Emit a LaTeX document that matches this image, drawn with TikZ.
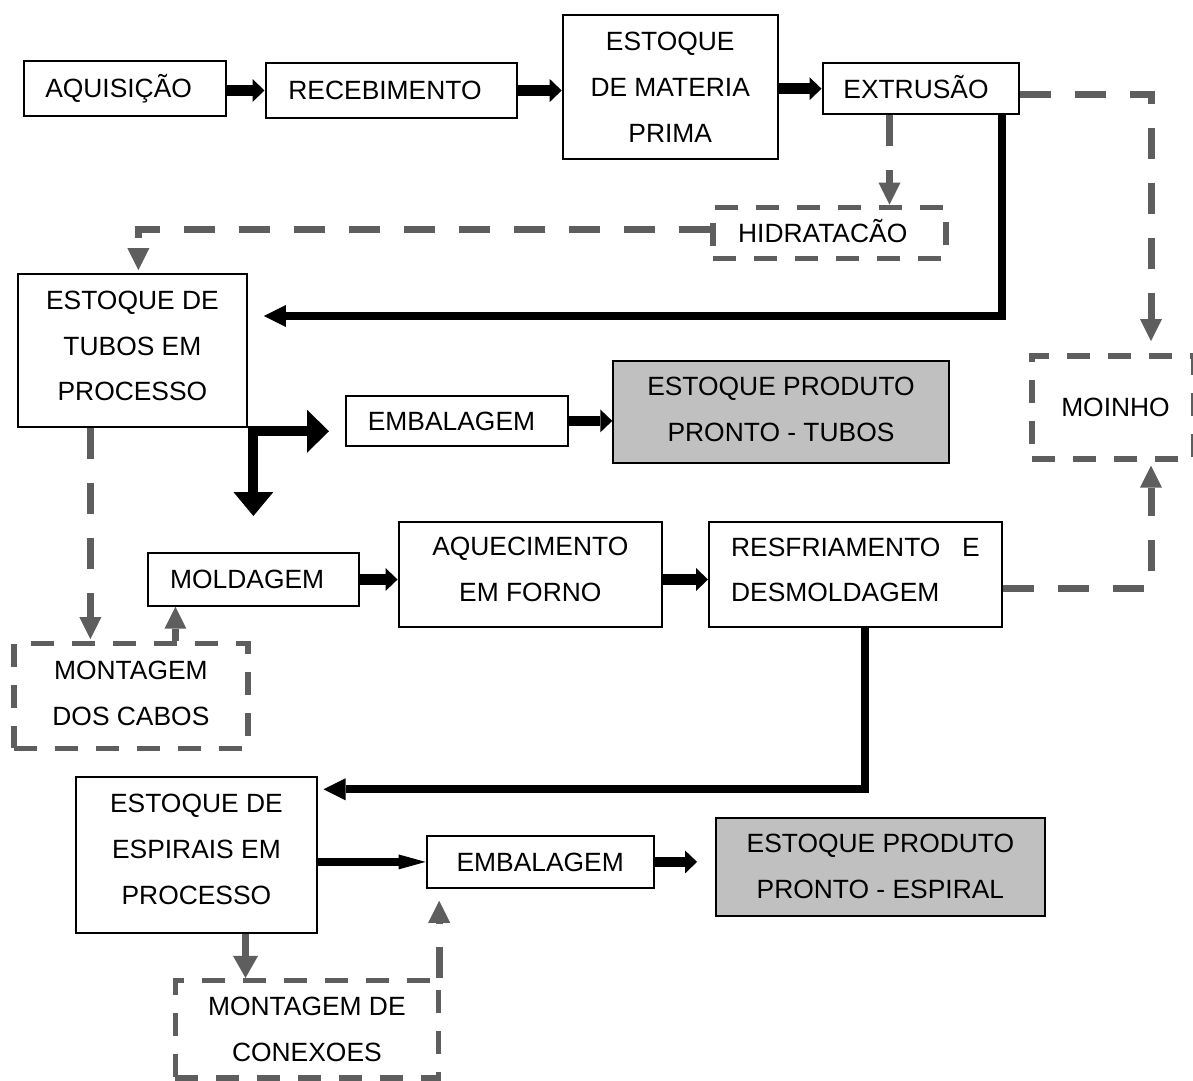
\documentclass[tikz,border=0pt]{standalone}
\usepackage{fontspec}
\setmainfont{Liberation Sans}
\usetikzlibrary{arrows.meta,calc}
\definecolor{dgray}{RGB}{94,94,94}
\definecolor{lgray}{RGB}{192,192,192}
\newcommand{\bfnt}{\fontsize{26.4}{45.7}\selectfont}
\newcommand{\dpt}[1]{\rule[-#1]{0pt}{#1}}
\begin{document}
\begin{tikzpicture}[x=1pt,y=-1pt,
  box/.style={draw=black, line width=2pt, fill=white, inner sep=0pt, font=\bfnt, text=black},
  pbox/.style={box, fill=lgray},
  dbox/.style={draw=dgray, line width=5.5pt, dash pattern=on 23pt off 18pt, inner sep=0pt, font=\bfnt, text=black},
  one/.style={text height=18.9pt, text depth=0pt},
  garr/.style={draw=dgray, line width=7pt, dash pattern=on 31pt off 24pt, -{Triangle[length=22pt,width=22pt,line width=0pt]}},
  gsol/.style={draw=dgray, line width=7pt, -{Triangle[length=22pt,width=25pt,line width=0pt]}},
  barr/.style={draw=black, line width=10.5pt, -{Triangle[length=12pt,width=23pt,line width=0pt]}},
  tarr/.style={draw=black, line width=8.6pt, -{Triangle[length=27pt,width=15pt,line width=0pt]}},
  bline/.style={draw=black, line width=8pt, miter limit=10, -{Triangle[length=22pt,width=22pt,line width=0pt]}},
  larr/.style={draw=black, line width=10pt, miter limit=10, {Triangle[length=24pt,width=40pt,line width=0pt]}-{Triangle[length=22pt,width=43pt,line width=0pt]}}
]
\fill[white] (0,0) rectangle (1193,1080);
\useasboundingbox (0,0) rectangle (1193,1080);

% boxes
\node[box, one, minimum width=202pt, minimum height=55pt] (aq) at (124.6,88.5) {AQUISIÇÃO\hspace*{12pt}};
\node[box, one, minimum width=251pt, minimum height=55.6pt] (rec) at (391,90.5) {RECEBIMENTO\hspace*{12pt}};
\node[box, align=center, minimum width=215pt, minimum height=144pt] (emp) at (670.2,87.2) {ESTOQUE\\DE MATERIA\\PRIMA};
\node[box, one, minimum width=196pt, minimum height=51pt] (ext) at (920.5,88.7) {EXTRUSÃO\hspace*{9pt}};
\node[dbox, one, minimum width=233pt, minimum height=51pt] (hid) at (829.7,232.8) {HIDRATACÃO\hspace*{14pt}};
\node[box, align=center, minimum width=229pt, minimum height=152.7pt] (tub) at (132.4,350.4) {ESTOQUE DE\\TUBOS EM\\PROCESSO\dpt{9pt}};
\node[box, one, minimum width=222pt, minimum height=50pt] (emb1) at (457,420.9) {EMBALAGEM\hspace*{11pt}};
\node[pbox, align=center, minimum width=335.5pt, minimum height=102pt] (ppt) at (781,412) {ESTOQUE PRODUTO\\PRONTO - TUBOS\dpt{6pt}};
\node[dbox, one, minimum width=162pt, minimum height=103pt] (moi) at (1113,407.3) {\hspace*{5pt}MOINHO};
\node[box, one, minimum width=210.7pt, minimum height=52.4pt] (mol) at (253.7,579.5) {MOLDAGEM\hspace*{13pt}};
\node[box, align=center, minimum width=263.5pt, minimum height=105.6pt] (aqf) at (530.3,574.5) {AQUECIMENTO\\EM FORNO\dpt{10pt}};
\node[box, align=left, minimum width=293pt, minimum height=105pt] (res) at (855.5,574.2) {RESFRIAMENTO\hspace{21.8pt}E\\DESMOLDAGEM\dpt{9pt}};
\node[dbox, align=center, minimum width=234pt, minimum height=105pt] (mdc) at (130.9,695.8) {MONTAGEM\\DOS CABOS\dpt{5pt}};
\node[box, align=center, minimum width=241pt, minimum height=156pt] (esp) at (196.4,855.3) {ESTOQUE DE\\ESPIRAIS EM\\PROCESSO\dpt{12pt}};
\node[box, one, minimum width=227.3pt, minimum height=51.7pt] (emb2) at (540.2,861.9) {EMBALAGEM};
\node[pbox, align=center, minimum width=329.7pt, minimum height=98pt] (ppe) at (880.4,866.7) {ESTOQUE PRODUTO\\PRONTO - ESPIRAL};
\node[dbox, align=center, minimum width=263pt, minimum height=97.4pt] (mcx) at (306.9,1029.4) {MONTAGEM DE\\CONEXOES};

% short black block arrows
\draw[barr] (aq.east |- rec.west) -- (rec.west);
\draw[barr] (rec.east) -- (rec.east -| emp.west);
\draw[barr] (emp.east |- ext.west) -- (ext.west);
\draw[barr] (emb1.east) -- (emb1.east -| ppt.west);
\draw[barr] (mol.east) -- (mol.east -| aqf.west);
\draw[barr] (mol.east -| aqf.east) -- (mol.east -| res.west);
\draw[barr, shorten >=17.5pt] (emb2.east) -- (emb2.east -| ppe.west);
\draw[tarr] (esp.east |- emb2.west) -- (emb2.west);

% long black lines
\coordinate (e1) at ($(ext.south)+(81.5,0)$);
\coordinate (t2) at ($(tub.east)+(16,-34.4)$);
\draw[bline] (e1) |- (t2);
\coordinate (r1) at ($(res.south)+(9.2,0)$);
\coordinate (s2) at ($(esp.east)+(5.7,-66)$);
\draw[bline] (r1) |- (s2);

% L-shaped double arrow
\coordinate (c1) at ($(tub.south east)+(5.5,3.5)$);
\draw[larr, shorten <=36.3pt, shorten >=16pt] (c1 |- mol.north) -- (c1) -- (c1 -| emb1.west);

% gray solid arrow
\coordinate (s3) at ($(esp.south)+(49.1,0)$);
\draw[gsol] (s3) -- (s3 |- mcx.north);

% gray dashed arrows
\coordinate (x1) at ($(ext.south)+(-31,0)$);
\draw[garr] (x1) -- (x1 |- hid.north);
\coordinate (h1) at ($(hid.west)+(0,-3.8)$);
\coordinate (t1) at ($(tub.north)+(6,0)$);
\draw[garr, shorten >=3pt] (h1) -| (t1);
\coordinate (x2) at ($(ext.east)+(0,5.6)$);
\coordinate (m2) at ($(moi.north)+(38,0)$);
\draw[garr, shorten >=12pt] (x2) -| (m2);
\coordinate (r2) at ($(res.east)+(0,14)$);
\coordinate (m5) at ($(moi.south)+(38,0)$);
\draw[garr, shorten >=4pt] (r2) -| (m5);
\coordinate (t3) at ($(tub.south)+(-42,0)$);
\draw[garr, shorten >=1.5pt] (t3) -- (t3 |- mdc.north);
\coordinate (m3) at ($(mol.south)+(-78.3,0)$);
\draw[garr] (m3 |- mdc.north) -- (m3);
\coordinate (m4) at ($(mcx.north east)+(-2,0)$);
\draw[garr, shorten >=12pt] (m4) -- (m4 |- emb2.south);
\end{tikzpicture}
\end{document}
